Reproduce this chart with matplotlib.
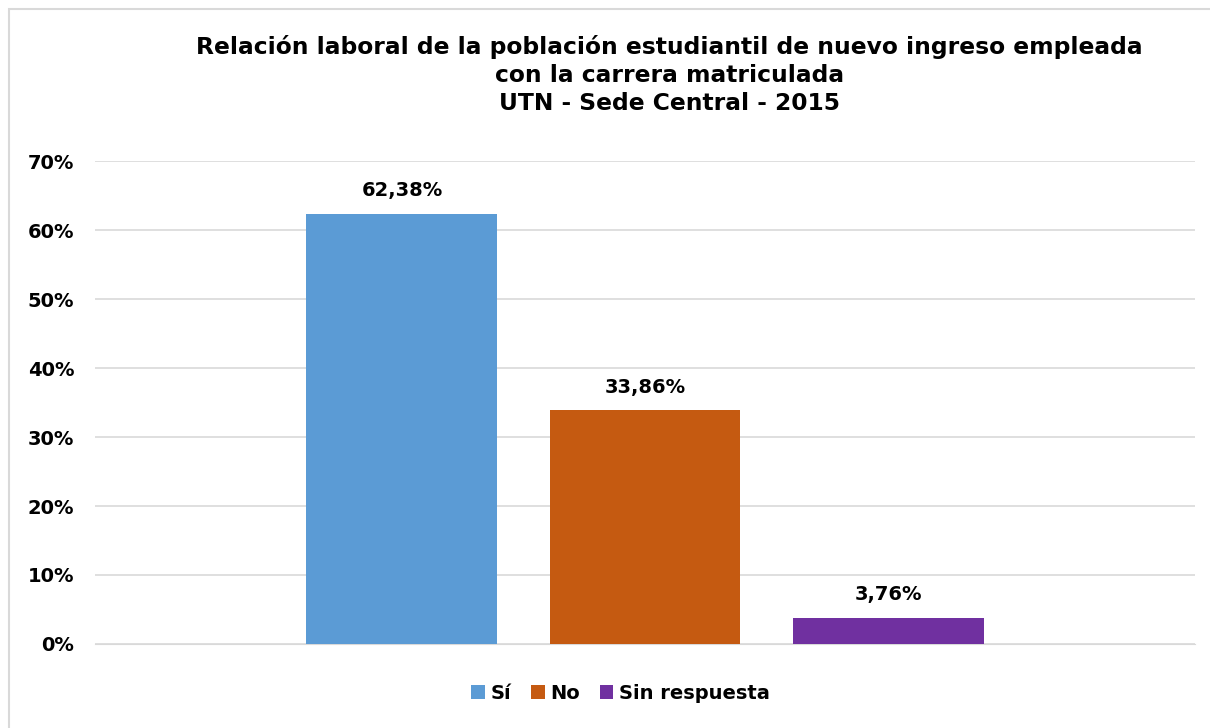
import matplotlib.pyplot as plt
from matplotlib.patches import Rectangle

series = ['Sí', 'No', 'Sin respuesta']
values = [0.6238, 0.3386, 0.0376]
labels = ['62,38%', '33,86%', '3,76%']
colors = ['#5B9BD5', '#C55A11', '#7030A0']
yticks = [0, 0.1, 0.2, 0.3, 0.4, 0.5, 0.6, 0.7]

plt.rcParams['font.family'] = ['DejaVu Sans']

fig = plt.figure(figsize=(12.1, 7.28), dpi=100)
ax = fig.add_axes([0.0785, 0.1154, 0.9091, 0.6634])

# outer chart frame
fig.patches.append(Rectangle((9 / 1210, -0.01), 1.02, 1 - 9 / 728 + 0.01,
                             transform=fig.transFigure, fill=False,
                             edgecolor='#d9d9d9', linewidth=1.5))

offsets = [-0.221, 0, 0.221]
for s, v, lab, c, off in zip(series, values, labels, colors, offsets):
    ax.bar(off, v, width=0.1736, color=c, label=s, zorder=3)
    ax.text(off, v + 0.02, lab, ha='center', va='bottom',
            fontsize=14, fontweight='bold')

ax.set_xlim(-0.5, 0.5)
ax.set_ylim(0, 0.7)
ax.set_yticks(yticks)
ax.set_yticklabels([f'{int(round(t * 100))}%' for t in yticks],
                   fontsize=14, fontweight='bold')
ax.set_xticks([])
ax.grid(axis='y', color='#d9d9d9', linewidth=1.2, zorder=0)
for sp in ax.spines.values():
    sp.set_visible(False)
ax.spines['bottom'].set_visible(True)
ax.spines['bottom'].set_color('#d9d9d9')
ax.tick_params(axis='y', length=0, pad=15)

fig.text(0.553, 0.897, 'Relación laboral de la población estudiantil de nuevo ingreso empleada\n'
         'con la carrera matriculada\nUTN - Sede Central - 2015',
         ha='center', va='center', fontsize=16.8, fontweight='bold', linespacing=1.3)

fig.legend(loc='center', bbox_to_anchor=(0.513, 0.048), ncol=3, frameon=False,
           prop={'size': 14, 'weight': 'bold'}, handlelength=0.7, handleheight=0.7,
           handletextpad=0.3, columnspacing=1.0)

fig.savefig('out.png', dpi=100)
